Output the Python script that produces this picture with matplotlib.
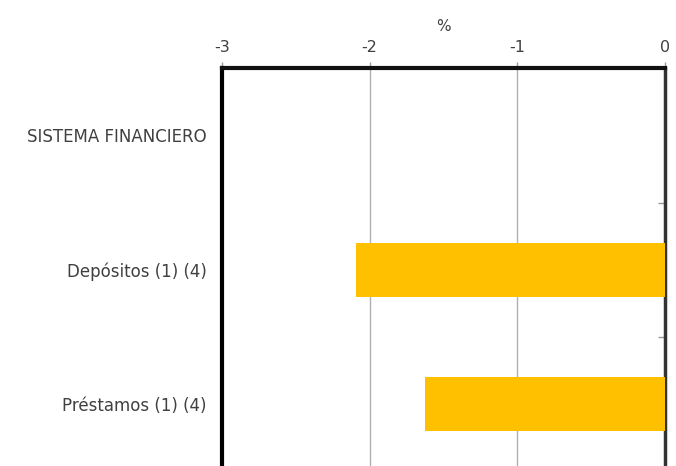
import matplotlib
matplotlib.use("Agg")
import matplotlib.pyplot as plt

categories = ["SISTEMA FINANCIERO", "Depósitos (1) (4)", "Préstamos (1) (4)"]
values = [None, -2.09, -1.625]
xticks = [-3, -2, -1, 0]
xticklabels = ["-3", "-2", "-1", "0"]

plt.rcParams['font.family'] = ['DejaVu Sans']

fig = plt.figure(figsize=(6.76, 4.66), dpi=100)
W, H = 676, 466
left_px, right_px, top_px = 222, 665, 68
bottom_px = top_px + 4 * 134.5
ax = fig.add_axes([left_px / W, 1 - bottom_px / H, (right_px - left_px) / W, (bottom_px - top_px) / H])

ypos = list(range(len(categories)))
for y, v in zip(ypos, values):
    if v is not None:
        ax.barh(y, v, height=0.4, color="#FFC000", zorder=3)

ax.set_xlim(-3, 0)
ax.set_ylim(3.5, -0.5)
ax.set_yticks(ypos)
ax.set_yticklabels(categories, fontsize=12, color="#404040")
ax.tick_params(axis='y', length=0, pad=11)

ax.xaxis.tick_top()
ax.xaxis.set_label_position('top')
ax.set_xticks(xticks)
ax.set_xticklabels(xticklabels, fontsize=11.5, color="#404040")
ax.tick_params(axis='x', length=4, color="#999999", width=1, pad=5)
ax.set_xlabel("%", fontsize=11, color="#404040", labelpad=7)

ax.grid(axis='x', color="#b0b0b0", linewidth=1, zorder=0)

ax.yaxis.set_ticks([0.5, 1.5, 2.5], minor=True)
ax.tick_params(axis='y', which='minor', left=False, right=True, direction='in', length=5, color="#999999", width=1)

ax.spines['top'].set_linewidth(3)
ax.spines['top'].set_color("#111111")
ax.spines['left'].set_linewidth(3)
ax.spines['left'].set_color("#000000")
ax.spines['right'].set_linewidth(2.5)
ax.spines['right'].set_color("#333333")
ax.spines['bottom'].set_visible(False)

fig.savefig("out.png", dpi=100)
